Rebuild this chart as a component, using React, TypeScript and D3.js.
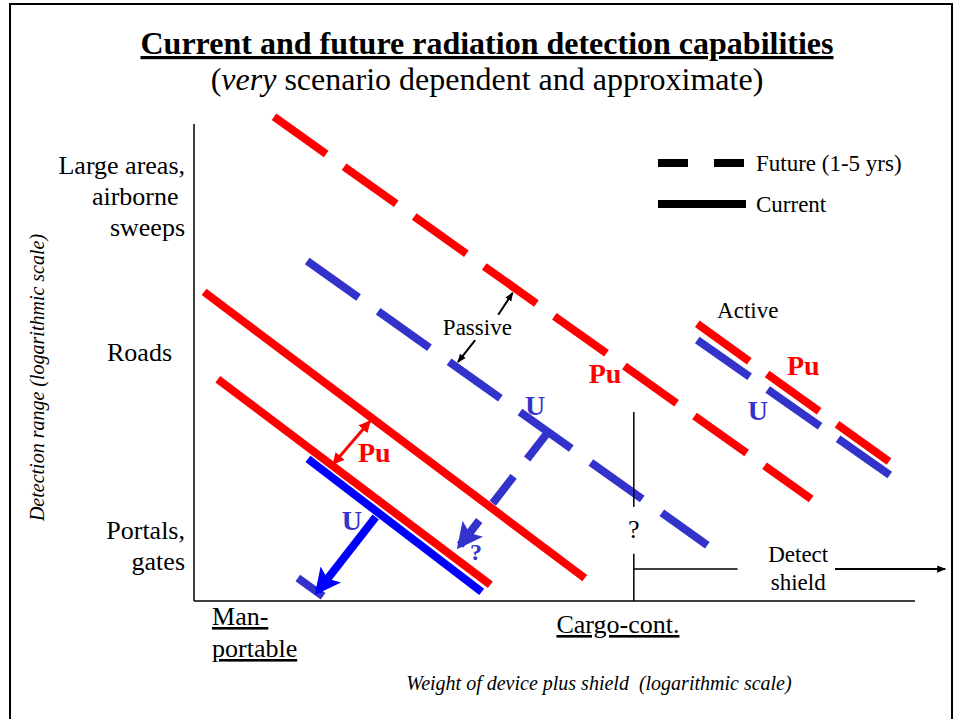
import React from "react";
import * as d3 from "d3";

// schematic units: x = weight (log, 0..100 along the axis), y = detection range (log, 0..100)
const RED = "#ff0000";
const BLUE_FUTURE = "#3333cc";
const BLUE_CURRENT = "#0000ff";

// detection capability lines (element, status, mode, start, end)
const capabilityLines = [
  { element: "Pu", status: "future", mode: "passive", from: [11.1, 101.5], to: [85.6, 21.4] },
  { element: "U", status: "future", mode: "passive", from: [15.7, 71.3], to: [71.2, 11.7] },
  { element: "Pu", status: "current", mode: "passive", from: [1.4, 64.8], to: [54.2, 4.8] },
  { element: "Pu", status: "current", mode: "passive", from: [3.3, 46.5], to: [41.1, 3.4] },
  { element: "U", status: "current", mode: "passive", from: [15.8, 29.8], to: [39.9, 1.9] },
  { element: "Pu", status: "future", mode: "active", from: [69.8, 58.1], to: [96.9, 28.7] },
  { element: "U", status: "future", mode: "active", from: [69.8, 54.7], to: [96.5, 26.4] },
  { element: "U", status: "future", mode: "shielded", from: [14.4, 4.8], to: [17.9, 1.0] },
];

const yCategories = [
  { lines: ["Large areas,", "airborne ", "sweeps"], value: 84.9 },
  { lines: ["Roads  "], value: 52.2 },
  { lines: ["Portals,", "gates"], value: 11.6 },
];

const xCategories = [
  { lines: ["Man-", "portable"], value: 2.5, anchor: "start" },
  { lines: ["Cargo-cont."], value: 58.8, anchor: "middle" },
];

const elementLabels = [
  { text: "Pu", element: "Pu", x: 25.0, y: 29.1 },
  { text: "Pu", element: "Pu", x: 57.0, y: 45.7 },
  { text: "Pu", element: "Pu", x: 84.5, y: 47.4 },
  { text: "U", element: "U", x: 21.9, y: 14.9 },
  { text: "U", element: "U", x: 47.3, y: 39.0 },
  { text: "U", element: "U", x: 78.2, y: 37.9 },
  { text: "?", element: "U", x: 39.1, y: 8.6 },
];

const noteLabels = [
  { text: "Passive", x: 39.3, y: 55.8 },
  { text: "Active", x: 76.8, y: 59.3 },
  { text: "?", x: 61.0, y: 13.2 },
  { text: "Detect", x: 83.8, y: 8.2 },
  { text: "shield", x: 83.8, y: 2.3 },
];

// arrows: kind decides the look
const arrows = [
  { kind: "pu-gap", from: [24.4, 37.7], to: [19.3, 28.7] },
  { kind: "u-current", from: [25.2, 17.6], to: [17.2, 2.1] },
  { kind: "u-future", from: [49.1, 35.4], to: [36.9, 11.7] },
  { kind: "pointer", from: [42.2, 60.0], to: [44.2, 64.6] },
  { kind: "pointer", from: [39.0, 54.7], to: [36.6, 50.1] },
  { kind: "pointer", from: [88.9, 6.7], to: [104.2, 6.7] },
];

const guideLines = [
  { from: [61.0, 39.6], to: [61.0, 19.7] },
  { from: [61.0, 9.9], to: [61.0, 0] },
  { from: [61.0, 6.7], to: [75.4, 6.7] },
];

const legendItems = [
  { label: "Future (1-5 yrs)", status: "future" },
  { label: "Current", status: "current" },
];

const W = 960;
const H = 719;
const serif = "'Liberation Serif', 'Times New Roman', serif";

export default function App() {
  const x = d3.scaleLinear().domain([0, 100]).range([194, 915]);
  const y = d3.scaleLinear().domain([0, 100]).range([601, 124]);

  const lineColor = (d: any) =>
    d.element === "Pu" ? RED : d.status === "current" ? BLUE_CURRENT : BLUE_FUTURE;

  const arrowStyle: Record<string, any> = {
    "pu-gap": { stroke: RED, width: 3, marker: "url(#headRed)", start: "url(#headRedStart)" },
    "u-current": { stroke: BLUE_CURRENT, width: 8, marker: "url(#headBlue)" },
    "u-future": { stroke: BLUE_FUTURE, width: 8, marker: "url(#headBlueF)", dash: "34 22" },
    pointer: { stroke: "#000", width: 2, marker: "url(#headBlack)" },
  };

  const line = d3.line<number[]>().x((p) => x(p[0])).y((p) => y(p[1]));

  return (
    <svg
      width={W}
      height={H}
      style={{ position: "absolute", left: 0, top: 0, background: "#fff" }}
      fontFamily={serif}
    >
      <defs>
        <marker id="headRed" viewBox="0 0 10 10" refX="9" refY="5" markerUnits="userSpaceOnUse"
          markerWidth="12" markerHeight="12" orient="auto">
          <path d="M0,0 L10,5 L0,10 z" fill={RED} />
        </marker>
        <marker id="headRedStart" viewBox="0 0 10 10" refX="9" refY="5" markerUnits="userSpaceOnUse"
          markerWidth="12" markerHeight="12" orient="auto-start-reverse">
          <path d="M0,0 L10,5 L0,10 z" fill={RED} />
        </marker>
        <marker id="headBlue" viewBox="0 0 10 10" refX="8" refY="5" markerUnits="userSpaceOnUse"
          markerWidth="26" markerHeight="26" orient="auto">
          <path d="M0,0 L10,5 L0,10 L2,5 z" fill={BLUE_CURRENT} />
        </marker>
        <marker id="headBlueF" viewBox="0 0 10 10" refX="8" refY="5" markerUnits="userSpaceOnUse"
          markerWidth="26" markerHeight="26" orient="auto">
          <path d="M0,0 L10,5 L0,10 L2,5 z" fill={BLUE_FUTURE} />
        </marker>
        <marker id="headBlack" viewBox="0 0 10 10" refX="9" refY="5" markerUnits="userSpaceOnUse"
          markerWidth="9" markerHeight="9" orient="auto">
          <path d="M0,1 L10,5 L0,9 z" fill="#000" />
        </marker>
      </defs>

      {/* slide frame */}
      <rect x={10} y={4} width={942} height={H + 10} fill="none" stroke="#000" strokeWidth={2} />

      {/* title */}
      <text x={487} y={54} textAnchor="middle" fontSize={32} fontWeight="bold" textDecoration="underline">
        Current and future radiation detection capabilities
      </text>
      <text x={487} y={90} textAnchor="middle" fontSize={32}>
        (<tspan fontStyle="italic">very</tspan> scenario dependent and approximate)
      </text>

      {/* axes */}
      <line x1={x(0)} x2={x(0)} y1={y(100)} y2={y(0)} stroke="#000" strokeWidth={1.5} />
      <line x1={x(0)} x2={x(100)} y1={y(0)} y2={y(0)} stroke="#000" strokeWidth={1.5} />

      {yCategories.map((c, i) =>
        c.lines.map((t, j) => (
          <text key={`y${i}${j}`} x={185} y={y(c.value) + 9 + (j - (c.lines.length - 1) / 2) * 31}
            textAnchor="end" fontSize={26} style={{ whiteSpace: "pre" }}>
            {t}
          </text>
        ))
      )}
      {xCategories.map((c, i) =>
        c.lines.map((t, j) => (
          <text key={`x${i}${j}`} x={x(c.value)} y={y(0) + (c.lines.length > 1 ? 24 + j * 32 : 32)}
            textAnchor={c.anchor} fontSize={26} textDecoration="underline">
            {t}
          </text>
        ))
      )}

      <text transform={`translate(44,${(y(0) + y(100)) / 2 + 15}) rotate(-90)`} textAnchor="middle"
        fontSize={20} fontStyle="italic">
        Detection range (logarithmic scale)
      </text>
      <text x={599} y={690} textAnchor="middle" fontSize={20} fontStyle="italic" style={{ whiteSpace: "pre" }}>
        Weight of device plus shield  (logarithmic scale)
      </text>

      {/* capability lines */}
      {capabilityLines.map((d, i) => (
        <path key={`l${i}`} d={line([d.from, d.to]) || ""} stroke={lineColor(d)} strokeWidth={8}
          fill="none" strokeDasharray={d.status === "future" && d.mode !== "shielded" ? (d.element === "U" && d.mode === "passive" ? "63 24" : "64 22") : undefined} />
      ))}

      {/* guide lines */}
      {guideLines.map((g, i) => (
        <path key={`g${i}`} d={line([g.from, g.to]) || ""} stroke="#000" strokeWidth={1.5} fill="none" />
      ))}

      {/* arrows */}
      {arrows.map((a, i) => {
        const s = arrowStyle[a.kind];
        return (
          <path key={`a${i}`} d={line([a.from, a.to]) || ""} stroke={s.stroke} strokeWidth={s.width}
            fill="none" strokeDasharray={s.dash} markerEnd={s.marker} markerStart={s.start} />
        );
      })}

      {/* labels */}
      {elementLabels.map((l, i) => (
        <text key={`e${i}`} x={x(l.x)} y={y(l.y)} textAnchor="middle" fontWeight="bold"
          fontSize={l.text === "?" ? 24 : 28} fill={l.element === "Pu" ? RED : BLUE_FUTURE}>
          {l.text}
        </text>
      ))}
      {noteLabels.map((l, i) => (
        <text key={`n${i}`} x={x(l.x)} y={y(l.y)} textAnchor="middle" fontSize={l.text === "?" ? 26 : 23}>
          {l.text}
        </text>
      ))}

      {/* legend */}
      {legendItems.map((it, i) => (
        <g key={`lg${i}`} transform={`translate(658,${163 + i * 41})`}>
          <line x1={0} x2={88} y1={0} y2={0} stroke="#000" strokeWidth={8}
            strokeDasharray={it.status === "future" ? "30 26" : undefined} />
          <text x={98} y={8} fontSize={23}>{it.label}</text>
        </g>
      ))}
    </svg>
  );
}
